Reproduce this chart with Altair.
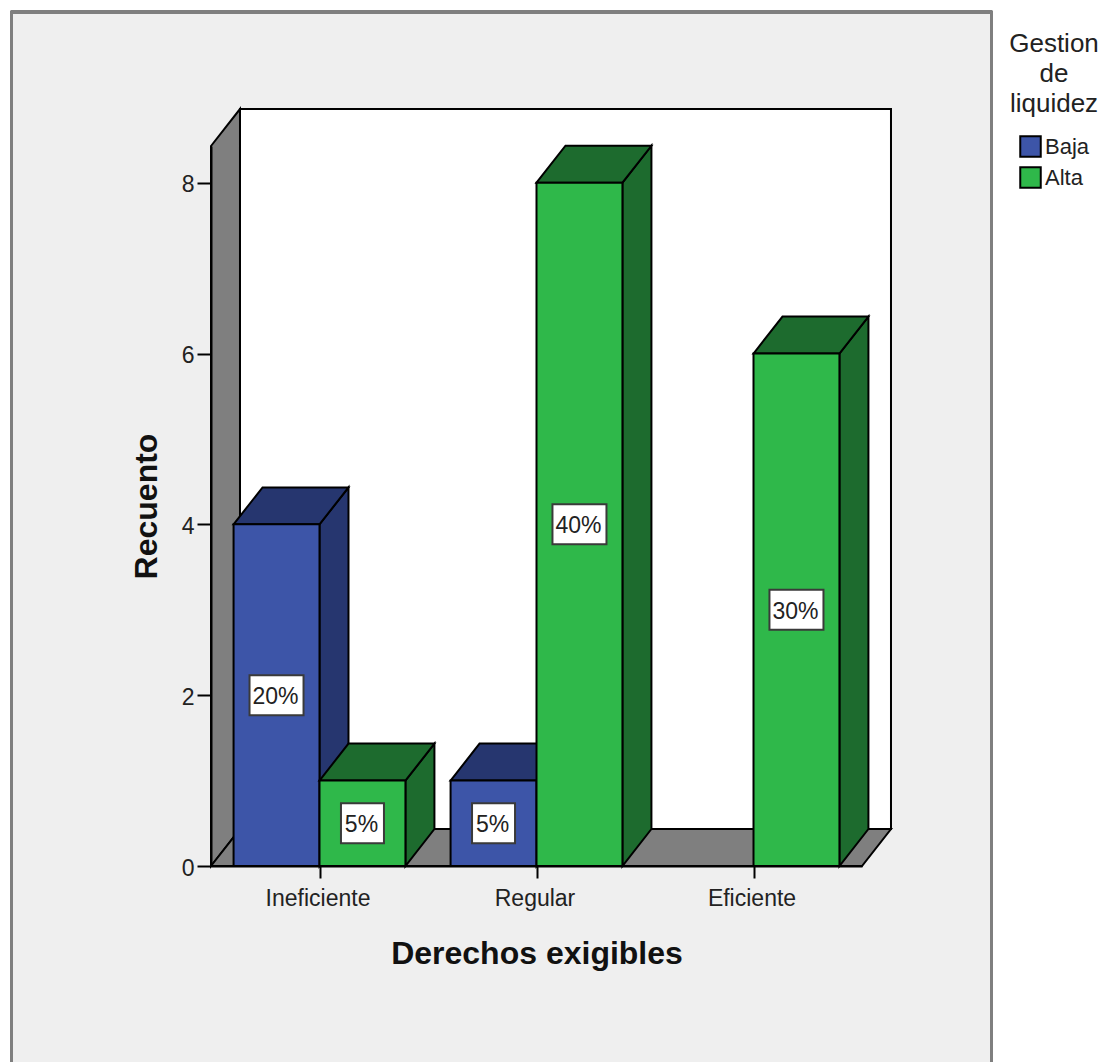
import json
import altair as alt
import pandas as pd

# Counts and shares per category and series
categories = ["Ineficiente", "Regular", "Eficiente"]
baja_counts = [4, 1, 0]
alta_counts = [1, 8, 6]
baja_labels = ["20%", "5%", ""]
alta_labels = ["5%", "40%", "30%"]

# Geometry of the extruded bars, in axis units
BAR_W = 0.396
DX = 0.1336
DY = 0.433
X_MIN, X_MAX = -0.5, 2.5
Y_MIN, Y_MAX = 0.0, 8.43

BLUE, BLUE_DARK = "#3d55a8", "#26366f"
GREEN, GREEN_DARK = "#2fb84a", "#1d6b2e"
WALL = "#7f7f7f"
PANEL = "#efefef"
FONT = "Liberation Sans"

x_scale = alt.Scale(domain=[X_MIN, X_MAX], nice=False, zero=False)
y_scale = alt.Scale(domain=[Y_MIN, Y_MAX], nice=False, zero=False)

x_axis = alt.Axis(
    title="Derechos exigibles",
    values=[0, 1, 2],
    labelExpr=f"{json.dumps(categories)}[datum.value]",
    grid=False,
    zindex=1,
    domainColor="black",
    domainWidth=2,
    tickColor="black",
    tickWidth=2,
    tickSize=12,
    labelFont=FONT,
    labelFontSize=23,
    labelColor="#222222",
    labelPadding=9,
    labelOffset=-2,
    labelFlush=False,
    labelOverlap=False,
    titleFont=FONT,
    titleFontSize=32,
    titleFontWeight="bold",
    titleColor="#111111",
    titlePadding=28,
)
y_axis = alt.Axis(
    title="Recuento",
    values=[0, 2, 4, 6, 8],
    format="d",
    grid=False,
    zindex=1,
    domainColor="black",
    domainWidth=2,
    tickColor="black",
    tickWidth=2,
    tickSize=14,
    labelFont=FONT,
    labelFontSize=23,
    labelColor="#222222",
    labelPadding=3,
    labelOffset=2,
    titleFont=FONT,
    titleFontSize=32,
    titleFontWeight="bold",
    titleColor="#111111",
    titlePadding=18,
)


def bars(counts, labels, series, offset):
    rows = []
    for i, (v, t) in enumerate(zip(counts, labels)):
        if v > 0:
            x0 = i + offset
            rows.append({"series": series, "x0": x0, "x1": x0 + BAR_W, "xc": x0 + BAR_W / 2,
                         "v": v, "mid": v / 2, "label": t, "id": f"{series}{i}"})
    return rows


def side_faces(rows):
    out = []
    for r in rows:
        out.append({"id": r["id"], "x": r["x1"], "lo": 0, "hi": r["v"]})
        out.append({"id": r["id"], "x": r["x1"] + DX, "lo": DY, "hi": r["v"] + DY})
    return pd.DataFrame(out)


def top_faces(rows):
    out = []
    for r in rows:
        v = r["v"]
        out += [
            {"id": r["id"], "x": r["x0"], "lo": v, "hi": v},
            {"id": r["id"], "x": r["x0"] + DX, "lo": v, "hi": v + DY},
            {"id": r["id"], "x": r["x1"], "lo": v, "hi": v + DY},
            {"id": r["id"], "x": r["x1"] + DX, "lo": v + DY, "hi": v + DY},
        ]
    return pd.DataFrame(out)


def polygon(df, fill):
    return alt.Chart(df).mark_area(color=fill, stroke="black", strokeWidth=2, opacity=1).encode(
        x=alt.X("x:Q", scale=x_scale, axis=x_axis),
        y=alt.Y("hi:Q", scale=y_scale, axis=y_axis),
        y2="lo:Q",
        detail="id:N",
    )


def fronts(rows):
    return alt.Chart(pd.DataFrame(rows)).mark_rect(stroke="black", strokeWidth=2).encode(
        x=alt.X("x0:Q", scale=x_scale, axis=x_axis),
        x2="x1:Q",
        y=alt.Y("v:Q", scale=y_scale, axis=y_axis),
        y2=alt.datum(0),
        color=alt.Color(
            "series:N",
            scale=alt.Scale(domain=["Baja", "Alta"], range=[BLUE, GREEN]),
            legend=alt.Legend(
                title=["Gestion", "de", "liquidez"],
                orient="none",
                legendX=798,
                legendY=-115,
                titleFont=FONT,
                titleFontSize=26,
                titleFontWeight="normal",
                titleColor="#222222",
                titleLineHeight=30,
                titleAlign="center",
                titleAnchor="middle",
                titleLimit=200,
                titlePadding=18,
                labelFont=FONT,
                labelFontSize=22,
                labelColor="#222222",
                labelOffset=3,
                symbolType="square",
                symbolSize=420,
                symbolStrokeColor="black",
                symbolStrokeWidth=2,
                symbolOpacity=1,
                rowPadding=2,
            ),
        ),
    )


baja = bars(baja_counts, baja_labels, "Baja", -BAR_W)
alta = bars(alta_counts, alta_labels, "Alta", 0.0)
all_rows = pd.DataFrame(baja + alta)

# Grey frame behind the plot
one = pd.DataFrame({"a": [0]})
panel = alt.Chart(one).mark_rect(fill=PANEL, stroke=WALL, strokeWidth=3).encode(
    x=alt.value(-199.5), x2=alt.value(780.5), y=alt.value(-134), y2=alt.value(930)
)
panel_top = alt.Chart(one).mark_rule(color=WALL, strokeWidth=4).encode(
    x=alt.value(-200), x2=alt.value(781), y=alt.value(-134)
)

# Back wall, left wall and floor of the box
back_wall = alt.Chart(pd.DataFrame({"x0": [X_MIN + DX], "x1": [X_MAX + DX], "y0": [DY], "y1": [Y_MAX + DY]})).mark_rect(
    fill="white", stroke="black", strokeWidth=2
).encode(
    x=alt.X("x0:Q", scale=x_scale, axis=x_axis),
    x2="x1:Q",
    y=alt.Y("y1:Q", scale=y_scale, axis=y_axis),
    y2="y0:Q",
)
left_wall = polygon(pd.DataFrame({"id": ["w", "w"], "x": [X_MIN, X_MIN + DX], "lo": [0, DY], "hi": [Y_MAX, Y_MAX + DY]}), WALL)
floor = polygon(
    pd.DataFrame({
        "id": ["f"] * 4,
        "x": [X_MIN, X_MIN + DX, X_MAX, X_MAX + DX],
        "lo": [0, 0, 0, DY],
        "hi": [0, DY, DY, DY],
    }),
    WALL,
)


def label_boxes(rows, width):
    return alt.Chart(rows).mark_rect(width=width, height=40, fill="white", stroke="#3a3a3a", strokeWidth=2).encode(
        x=alt.X("xc:Q", scale=x_scale, axis=x_axis),
        y=alt.Y("mid:Q", scale=y_scale, axis=y_axis),
    )


short = all_rows[all_rows["label"].str.len() == 2]
wide = all_rows[all_rows["label"].str.len() == 3]
label_text = alt.Chart(all_rows).mark_text(font=FONT, fontSize=23, color="#222222", baseline="middle", dy=2, dx=-1).encode(
    x=alt.X("xc:Q", scale=x_scale, axis=x_axis),
    y=alt.Y("mid:Q", scale=y_scale, axis=y_axis),
    text="label:N",
)

chart = alt.layer(
    panel,
    panel_top,
    back_wall,
    left_wall,
    floor,
    polygon(side_faces(baja), BLUE_DARK),
    polygon(top_faces(baja), BLUE_DARK),
    fronts(baja),
    polygon(side_faces(alta), GREEN_DARK),
    polygon(top_faces(alta), GREEN_DARK),
    fronts(alta),
    label_boxes(wide, 54),
    label_boxes(short, 43),
    label_text,
).properties(
    width=651,
    height=720,
    background="white",
    padding={"left": 211, "top": 146, "right": 244, "bottom": 196},
    autosize=alt.AutoSizeParams(type="none"),
).configure_view(stroke=None)

chart.save("out.html", embed_options={"renderer": "svg", "actions": False})
